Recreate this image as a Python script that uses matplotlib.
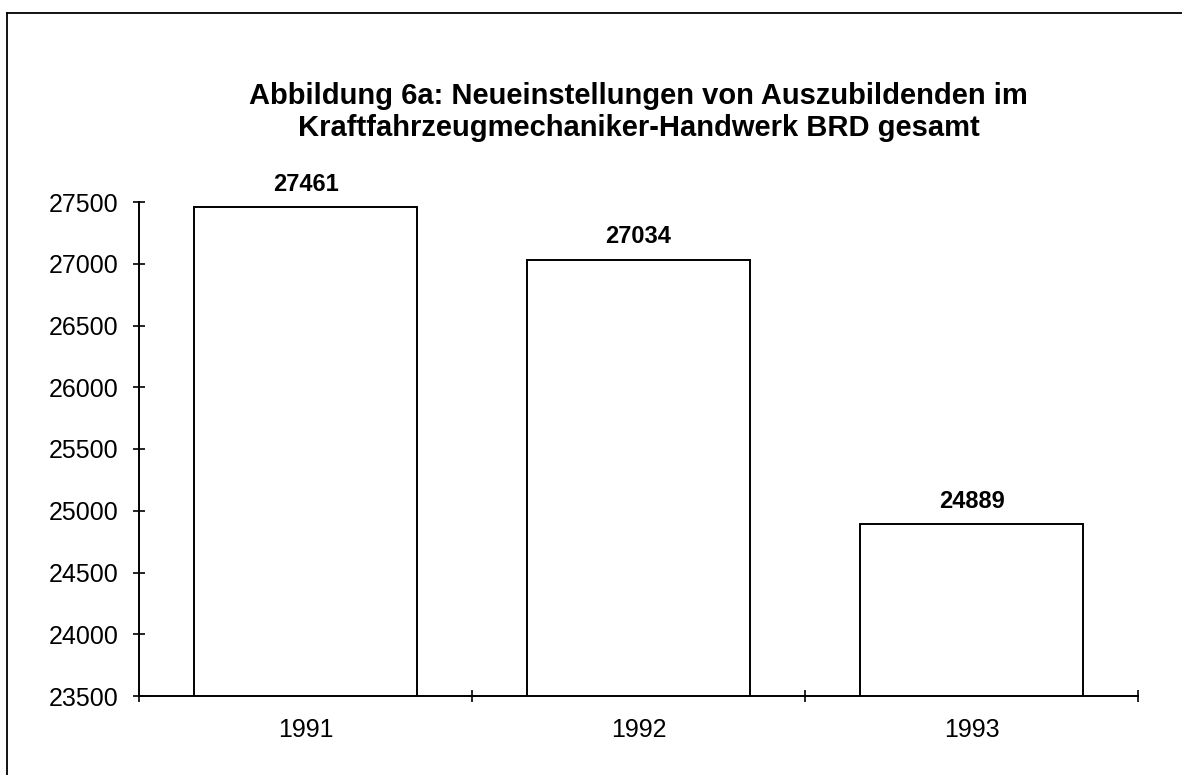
import matplotlib
matplotlib.use("Agg")
import matplotlib.pyplot as plt
from matplotlib.lines import Line2D
import numpy as np

plt.rcParams['font.family'] = ['Liberation Sans', 'DejaVu Sans']

years = ["1991", "1992", "1993"]
values = [27461, 27034, 24889]
y_ticks = [23500, 24000, 24500, 25000, 25500, 26000, 26500, 27000, 27500]
title_lines = ["Abbildung 6a: Neueinstellungen von Auszubildenden im",
               "Kraftfahrzeugmechaniker-Handwerk BRD gesamt"]

W, H = 1182, 775
fig = plt.figure(figsize=(W / 100, H / 100), dpi=100)
ax = fig.add_axes([139 / W, 1 - 696 / H, (1138 - 139) / W, (696 - 202) / H])

x = np.arange(len(years))
ax.bar(x, values, width=0.667, color='white', edgecolor='black', linewidth=1.4)
ax.set_ylim(y_ticks[0], y_ticks[-1])
ax.set_xlim(-0.5, len(years) - 0.5)

for xi, v in zip(x, values):
    ax.annotate(str(v), (xi, v), xytext=(0, 8), textcoords='offset points',
                ha='center', va='bottom', fontsize=17, fontweight='bold',
                annotation_clip=False)

ax.set_yticks(y_ticks)
ax.set_yticklabels([str(t) for t in y_ticks], fontsize=18)
ax.tick_params(axis='y', direction='inout', length=9, width=1.2, pad=10)

# category boundaries as major ticks, labels on minor ticks
ax.set_xticks(np.arange(len(years) + 1) - 0.5)
ax.set_xticklabels([])
ax.set_xticks(x, minor=True)
ax.set_xticklabels(years, minor=True, fontsize=18)
ax.tick_params(axis='x', which='major', direction='inout', length=9, width=1.2)
ax.tick_params(axis='x', which='minor', length=0, pad=16)

for side in ['top', 'right']:
    ax.spines[side].set_visible(False)
for side in ['left', 'bottom']:
    ax.spines[side].set_linewidth(1.4)

cx = (139 + 1138) / 2 / W
fig.text(cx, 1 - 104 / H, title_lines[0], ha='center', va='baseline',
         fontsize=21, fontweight='bold')
fig.text(cx, 1 - 136 / H, title_lines[1], ha='center', va='baseline',
         fontsize=21, fontweight='bold')

# border of the scanned chart area
fx, fy = 7 / W, 1 - 13 / H
fig.add_artist(Line2D([fx, fx], [0, fy], transform=fig.transFigure, color='black', lw=1.3))
fig.add_artist(Line2D([fx, 1], [fy, fy], transform=fig.transFigure, color='black', lw=1.3))

fig.savefig("out.png", dpi=100)
